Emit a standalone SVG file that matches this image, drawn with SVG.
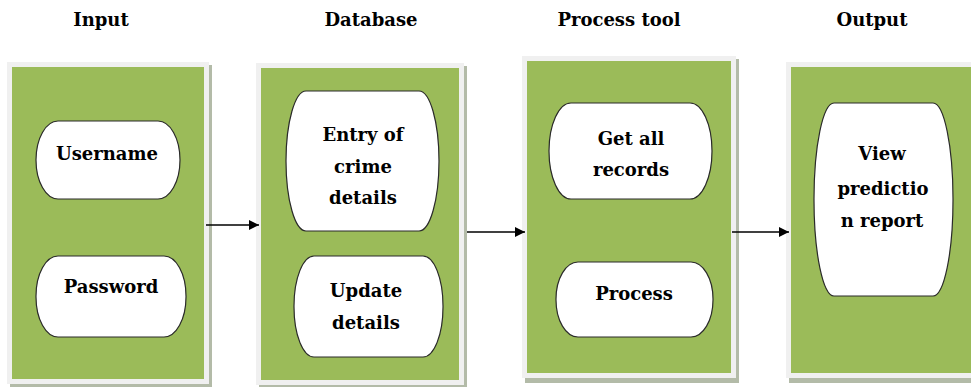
<svg xmlns="http://www.w3.org/2000/svg" width="971" height="387" viewBox="0 0 971 387">
<style>
.t{font-family:"DejaVu Serif","Liberation Serif",serif;font-weight:bold;font-size:18px;fill:#000;text-anchor:middle}
.frame{fill:#f0f0f0}
.shadow{fill:#b3bba8}
.green{fill:#9bbb59}
.pill{fill:#fff;stroke:#2a2a2a;stroke-width:1.2}
.conn{stroke:#000;stroke-width:1.5;fill:none;marker-end:url(#ah)}
</style>
<defs>
<marker id="ah" viewBox="0 0 10 10" refX="10" refY="5" markerWidth="12" markerHeight="10" markerUnits="userSpaceOnUse" orient="auto">
<path d="M0,0 L10,5 L0,10 z" fill="#000"/>
</marker>
</defs>
<rect width="971" height="387" fill="#fff"/>
<g id="titles">
<text class="t" x="101" y="26">Input</text>
<text class="t" x="371" y="26">Database</text>
<text class="t" x="619" y="26">Process tool</text>
<text class="t" x="872" y="26">Output</text>
</g>
<g id="input">
<rect class="shadow" x="10" y="65" width="202" height="322"/>
<rect class="frame" x="7" y="62" width="202" height="322"/>
<rect class="green" x="12" y="67" width="192" height="312"/>
<g id="username">
<rect class="pill" x="36" y="121" width="144" height="78" rx="22" ry="39"/>
<text class="t" x="107" y="160">Username</text>
</g>
<g id="password">
<rect class="pill" x="36" y="256" width="150" height="81" rx="22" ry="40"/>
<text class="t" x="111" y="293">Password</text>
</g>
</g>
<g id="database">
<rect class="shadow" x="259" y="66" width="208" height="322"/>
<rect class="frame" x="256" y="63" width="208" height="322"/>
<rect class="green" x="261" y="68" width="198" height="312"/>
<g id="entry">
<rect class="pill" x="286" y="91" width="153" height="140" rx="20" ry="70"/>
<text class="t" x="363" y="141">Entry of</text>
<text class="t" x="363" y="173">crime</text>
<text class="t" x="363" y="204">details</text>
</g>
<g id="update">
<rect class="pill" x="294" y="256" width="149" height="101" rx="20" ry="50"/>
<text class="t" x="366" y="297">Update</text>
<text class="t" x="366" y="329">details</text>
</g>
</g>
<g id="process-tool">
<rect class="shadow" x="525" y="59" width="214" height="324"/>
<rect class="frame" x="522" y="56" width="214" height="322"/>
<rect class="green" x="527" y="61" width="204" height="312"/>
<g id="getall">
<rect class="pill" x="549" y="103" width="163" height="96" rx="22" ry="48"/>
<text class="t" x="631" y="145">Get all</text>
<text class="t" x="631" y="176">records</text>
</g>
<g id="process">
<rect class="pill" x="556" y="262" width="157" height="75" rx="22" ry="37"/>
<text class="t" x="634" y="300">Process</text>
</g>
</g>
<g id="output">
<rect class="shadow" x="789" y="65" width="190" height="318"/>
<rect class="frame" x="786" y="62" width="190" height="316"/>
<rect class="green" x="791" y="67" width="185" height="306"/>
<g id="view">
<rect class="pill" x="814" y="103" width="139" height="193" rx="20" ry="96"/>
<text class="t" x="882" y="160">View</text>
<text class="t" x="883" y="195">predictio</text>
<text class="t" x="882" y="227">n report</text>
</g>
</g>
<g id="connectors">
<line class="conn" x1="206" y1="225" x2="259" y2="225"/>
<line class="conn" x1="467" y1="232" x2="525" y2="232"/>
<line class="conn" x1="732" y1="232" x2="789" y2="232"/>
</g>
</svg>
